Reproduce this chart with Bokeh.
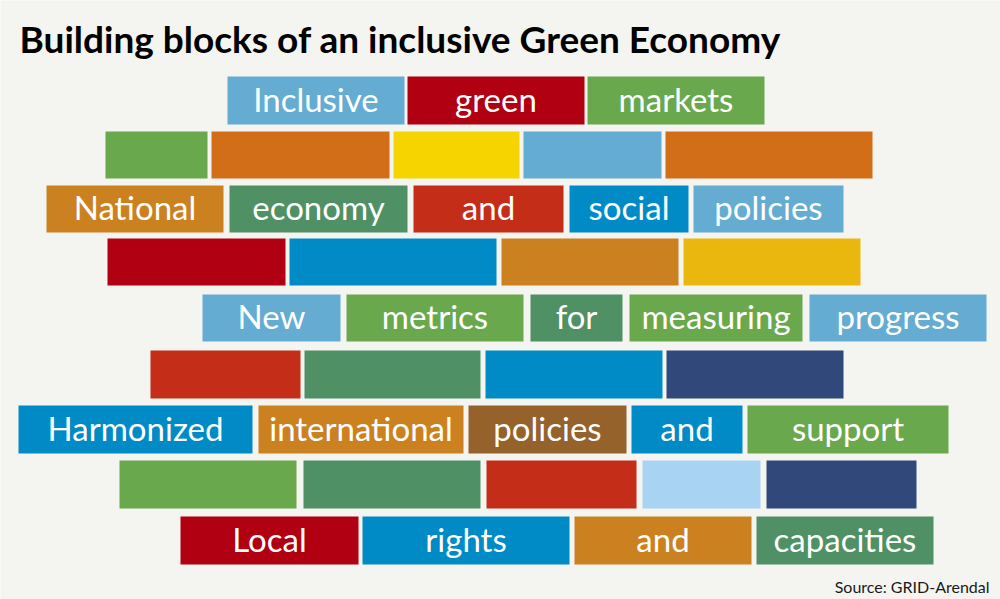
from bokeh.plotting import figure
from bokeh.models import Range1d
from bokeh.core.properties import value
from bokeh.embed import file_html
from bokeh.resources import INLINE

BG = "#f4f5f1"
LB = "#64acd1"   # light blue
DR = "#b00011"   # dark red
GR = "#6aa84d"   # green
OR = "#d26e17"   # orange
YE = "#f5d400"   # yellow
OC = "#cc8121"   # ochre
DG = "#4f9064"   # dark green
RD = "#c42d18"   # red
BL = "#008bc6"   # blue
YO = "#eab70f"   # golden yellow
NV = "#31487a"   # navy
BR = "#94622a"   # brown
PB = "#a8d3f2"   # pale blue

title_text = "Building blocks of an inclusive Green Economy"
source_text = "Source: GRID-Arendal"

# rows of bricks (top, bottom in page pixels)
row_tops = [76, 131, 185, 238, 294, 350, 405, 460, 516]
row_bottoms = [124, 178, 232, 285, 341, 398, 453, 508, 564]
row_lefts = [
    [227, 407, 587],
    [105, 211, 393, 523, 665],
    [46, 229, 413, 569, 693],
    [107, 289, 501, 683],
    [202, 346, 530, 629, 809],
    [150, 304, 485, 666],
    [18, 258, 468, 631, 747],
    [119, 303, 486, 642, 766],
    [180, 362, 574, 756],
]
row_rights = [
    [404, 584, 764],
    [207, 389, 519, 661, 872],
    [223, 407, 563, 688, 843],
    [285, 496, 678, 860],
    [340, 523, 622, 802, 986],
    [300, 480, 662, 843],
    [252, 463, 626, 742, 948],
    [296, 480, 636, 760, 916],
    [358, 569, 751, 933],
]
row_colors = [
    [LB, DR, GR],
    [GR, OR, YE, LB, OR],
    [OC, DG, RD, BL, LB],
    [DR, BL, OC, YO],
    [LB, GR, DG, GR, LB],
    [RD, DG, BL, NV],
    [BL, OC, BR, BL, GR],
    [GR, DG, RD, PB, NV],
    [DR, BL, OC, DG],
]
row_words = [
    ["Inclusive", "green", "markets"],
    ["", "", "", "", ""],
    ["National", "economy", "and", "social", "policies"],
    ["", "", "", ""],
    ["New", "metrics", "for", "measuring", "progress"],
    ["", "", "", ""],
    ["Harmonized", "international", "policies", "and", "support"],
    ["", "", "", "", ""],
    ["Local", "rights", "and", "capacities"],
]

L, R, T, B, C, W, X, Y = [], [], [], [], [], [], [], []
for i in range(len(row_tops)):
    for l, r, c, w in zip(row_lefts[i], row_rights[i], row_colors[i], row_words[i]):
        L.append(l); R.append(r); T.append(row_tops[i]); B.append(row_bottoms[i]); C.append(c)
        if w:
            W.append(w); X.append((l + r) / 2); Y.append((row_tops[i] + row_bottoms[i]) / 2 - 2)

p = figure(width=1000, height=599, output_backend="svg", toolbar_location=None,
           x_range=Range1d(0, 1000), y_range=Range1d(599, 0), min_border=0)
p.axis.visible = False
p.grid.visible = False
p.outline_line_color = None
p.background_fill_color = BG
p.border_fill_color = BG

p.quad(left=L, right=R, top=T, bottom=B, fill_color=C, line_color=None)
p.text(x=X, y=Y, text=W, text_align="center", text_baseline="middle",
       text_color="white", text_font=value("Lato"), text_font_size="33px")

p.text(x=[19], y=[38], text=[title_text], text_align="left", text_baseline="middle",
       text_color="black", text_font=value("Lato"), text_font_style="bold",
       text_font_size="37px")
p.text(x=[989], y=[586], text=[source_text], text_align="right", text_baseline="middle",
       text_color="#1a1a1a", text_font=value("Lato"), text_font_size="16px")

html = file_html(p, INLINE)
html = html.replace("<body>", '<body style="background:%s">' % BG, 1)
open("out.html", "w").write(html)
